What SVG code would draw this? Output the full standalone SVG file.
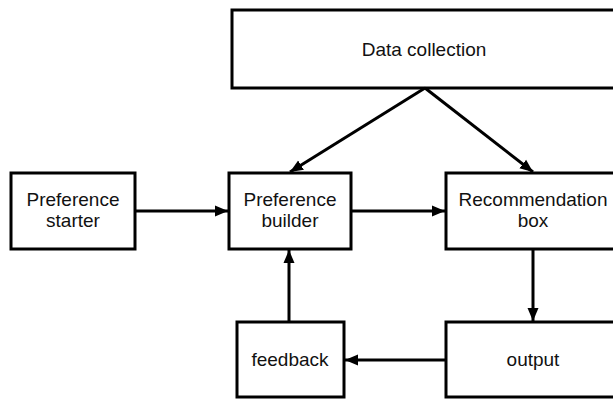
<svg xmlns="http://www.w3.org/2000/svg" width="613" height="399" viewBox="0 0 613 399">
<style>
.box{fill:#fff;stroke:#000;stroke-width:3}
.lbl{font-family:"Liberation Sans",Arial,sans-serif;font-size:19px;fill:#111;text-anchor:middle}
.con{stroke:#000;stroke-width:3;fill:none;marker-end:url(#ah)}
</style>
<defs>
<marker id="ah" markerUnits="userSpaceOnUse" markerWidth="14" markerHeight="12" refX="13" refY="6" orient="auto">
<path d="M0,0.5 L13,6 L0,11.5 z" fill="#000"/>
</marker>
</defs>
<rect width="613" height="399" fill="#fff"/>
<g id="data-collection">
<rect class="box" x="232" y="10" width="400" height="78"/>
<text class="lbl" x="424" y="56">Data collection</text>
</g>
<g id="preference-starter">
<rect class="box" x="11" y="173" width="124" height="76"/>
<text class="lbl" x="73" y="206">Preference</text>
<text class="lbl" x="73" y="227">starter</text>
</g>
<g id="preference-builder">
<rect class="box" x="229" y="173" width="122" height="76"/>
<text class="lbl" x="290" y="206">Preference</text>
<text class="lbl" x="290" y="227">builder</text>
</g>
<g id="recommendation-box">
<rect class="box" x="446" y="173" width="180" height="76"/>
<text class="lbl" x="533" y="206">Recommendation</text>
<text class="lbl" x="533" y="227">box</text>
</g>
<g id="feedback">
<rect class="box" x="237" y="322" width="107" height="75"/>
<text class="lbl" x="290" y="366">feedback</text>
</g>
<g id="output">
<rect class="box" x="446" y="322" width="180" height="75"/>
<text class="lbl" x="533" y="366">output</text>
</g>
<g id="connectors">
<line class="con" x1="425" y1="88" x2="290" y2="172"/>
<line class="con" x1="425" y1="88" x2="533" y2="172"/>
<line class="con" x1="135" y1="211" x2="228" y2="211"/>
<line class="con" x1="351" y1="211" x2="445" y2="211"/>
<line class="con" x1="533" y1="249" x2="533" y2="321"/>
<line class="con" x1="446" y1="360" x2="345" y2="360"/>
<line class="con" x1="289" y1="322" x2="289" y2="250"/>
</g>
</svg>
